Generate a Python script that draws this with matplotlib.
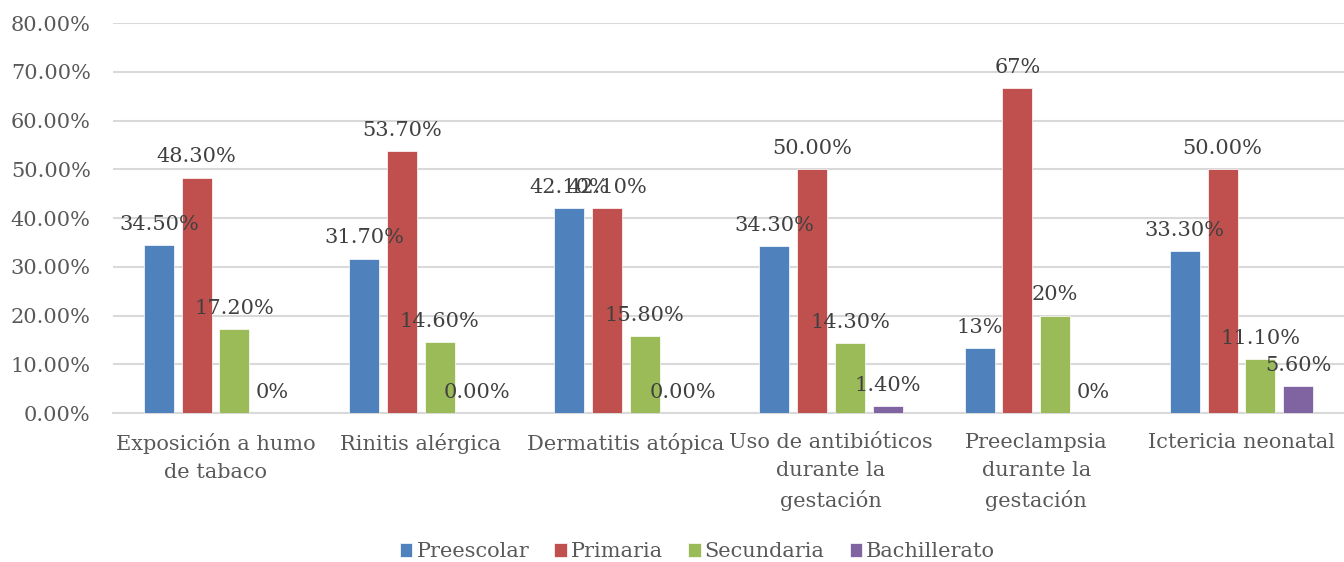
import numpy as np
import matplotlib.pyplot as plt

plt.rcParams['font.family'] = ['DejaVu Serif']

categorias = ["Exposición a humo\nde tabaco", "Rinitis alérgica", "Dermatitis atópica",
              "Uso de antibióticos\ndurante la\ngestación", "Preeclampsia\ndurante la\ngestación",
              "Ictericia neonatal"]
series = ["Preescolar", "Primaria", "Secundaria", "Bachillerato"]
colores = ["#4F81BD", "#C0504D", "#9BBB59", "#8064A2"]

preescolar = [34.5, 31.7, 42.1, 34.3, 13.3, 33.3]
primaria = [48.3, 53.7, 42.1, 50.0, 66.7, 50.0]
secundaria = [17.2, 14.6, 15.8, 14.3, 20.0, 11.1]
bachillerato = [0.0, 0.0, 0.0, 1.4, 0.0, 5.6]

etiquetas_pre = ["34.50%", "31.70%", "42.10%", "34.30%", "13%", "33.30%"]
etiquetas_pri = ["48.30%", "53.70%", "42.10%", "50.00%", "67%", "50.00%"]
etiquetas_sec = ["17.20%", "14.60%", "15.80%", "14.30%", "20%", "11.10%"]
etiquetas_bac = ["0%", "0.00%", "0.00%", "1.40%", "0%", "5.60%"]

valores = [preescolar, primaria, secundaria, bachillerato]
etiquetas = [etiquetas_pre, etiquetas_pri, etiquetas_sec, etiquetas_bac]

fig = plt.figure(figsize=(13.44, 5.62), dpi=100)
ax = fig.add_axes([0.084, 0.265, 0.916, 0.694])

x = np.arange(len(categorias))
paso = 0.184
ancho = 0.146
texto = "#404040"

for i, (nombre, vals, etiq, col) in enumerate(zip(series, valores, etiquetas, colores)):
    pos = x + (i - 1.5) * paso
    barras = ax.bar(pos, vals, width=ancho, color=col, label=nombre,
                    edgecolor="white", linewidth=0.5, zorder=3)
    for b, t in zip(barras, etiq):
        ax.annotate(t, (b.get_x() + b.get_width() / 2, b.get_height()),
                    xytext=(0, 8), textcoords="offset points",
                    ha="center", va="bottom", fontsize=15, color=texto, zorder=4)

ax.set_xlim(-0.5, len(categorias) - 0.5)
ax.set_ylim(0, 80)
ax.set_yticks(np.arange(0, 81, 10))
ax.set_yticklabels([f"{v:.2f}%" for v in np.arange(0, 81, 10)])
ax.set_xticks(x)
ax.set_xticklabels(categorias, linespacing=1.6)

ax.grid(axis="y", color="#d9d9d9", linewidth=1.5, zorder=0)
for s in ["top", "right", "left"]:
    ax.spines[s].set_visible(False)
ax.spines["bottom"].set_color("#d9d9d9")
ax.spines["bottom"].set_linewidth(1.5)
ax.tick_params(axis="both", length=0, labelsize=15, colors="#595959")
ax.tick_params(axis="y", pad=16)
ax.tick_params(axis="x", pad=14)

fig.legend(loc="center", bbox_to_anchor=(0.519, 0.018), ncol=4, frameon=False,
           fontsize=15, handlelength=0.6, handleheight=0.6, handletextpad=0.2,
           columnspacing=1.2, labelcolor="#595959")

plt.savefig("out.png", dpi=100)
